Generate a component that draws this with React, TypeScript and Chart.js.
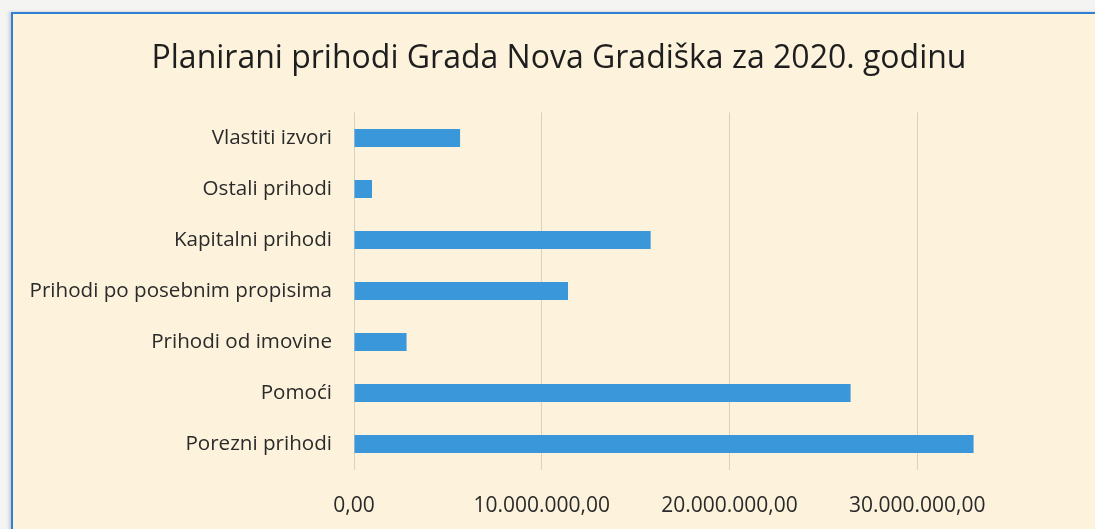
import React, { useEffect, useRef } from "react";
import { Chart, registerables } from "chart.js";

Chart.register(...registerables);

const TITLE = "Planirani prihodi Grada Nova Gradiška za 2020. godinu";
const categories = [
  "Vlastiti izvori",
  "Ostali prihodi",
  "Kapitalni prihodi",
  "Prihodi po posebnim propisima",
  "Prihodi od imovine",
  "Pomoći",
  "Porezni prihodi",
];
const values = [5650000, 960000, 15800000, 11400000, 2800000, 26450000, 33000000];
const axisMax = 40000000;
const axisStep = 10000000;

function formatHr(v: number): string {
  const fixed = Math.abs(v).toFixed(2);
  const [intPart, dec] = fixed.split(".");
  const withDots = intPart.replace(/\B(?=(\d{3})+(?!\d))/g, ".");
  return (v < 0 ? "-" : "") + withDots + "," + dec;
}

export default function App() {
  const ref = useRef<HTMLCanvasElement | null>(null);

  useEffect(() => {
    if (!ref.current) return;
    const chart = new Chart(ref.current, {
      type: "bar",
      data: {
        labels: categories,
        datasets: [
          {
            data: values,
            backgroundColor: "#3A98DA",
            borderWidth: 0,
            categoryPercentage: 1,
            barPercentage: 0.355,
          },
        ],
      },
      options: {
        indexAxis: "y",
        animation: false,
        responsive: false,
        maintainAspectRatio: false,
        layout: { padding: { left: 0, right: 4, top: 0, bottom: 0 } },
        plugins: {
          legend: { display: false },
          tooltip: { enabled: false },
          title: {
            display: true,
            text: TITLE,
            color: "#1e1e1e",
            font: { family: "'Open Sans'", size: 32, weight: "normal", lineHeight: 1.2 },
            padding: { top: 26, bottom: 34.1 },
          },
        },
        scales: {
          x: {
            min: 0,
            max: axisMax,
            ticks: {
              stepSize: axisStep,
              color: "#2a2a2a",
              font: { family: "'Open Sans'", size: 21 },
              padding: 24,
              maxRotation: 0,
              callback: (v: any) => (Number(v) >= axisMax ? "" : formatHr(Number(v))),
            },
            grid: { color: "#d6d1c5", lineWidth: 1, drawTicks: false },
            border: { display: false },
            afterFit: (scale: any) => {
              scale.height = 59.5;
              scale.paddingLeft = 0;
              scale.paddingRight = 0;
            },
          },
          y: {
            ticks: {
              color: "#2a2a2a",
              font: { family: "'Open Sans'", size: 20.6 },
              padding: 22,
            },
            grid: { display: false, drawTicks: false },
            border: { display: false },
            afterFit: (scale: any) => {
              scale.width = 341;
            },
          },
        },
      },
    });
    return () => chart.destroy();
  }, []);

  return (
    <div
      style={{
        position: "fixed",
        left: 0,
        top: 0,
        width: 1095,
        height: 529,
        overflow: "hidden",
        background: "#f4f4f2",
      }}
    >
      <div
        style={{
          position: "absolute",
          left: 11,
          top: 12,
          width: 1110,
          height: 540,
          borderLeft: "2px solid #2f7fd2",
          borderTop: "2px solid #2f7fd2",
          background: "#FDF3DD",
          boxShadow: "-2px 0 3px rgba(120,130,160,0.35)",
        }}
      >
        <canvas ref={ref} width={1096} height={515} style={{ display: "block", width: 1096, height: 515 }} />
      </div>
    </div>
  );
}
